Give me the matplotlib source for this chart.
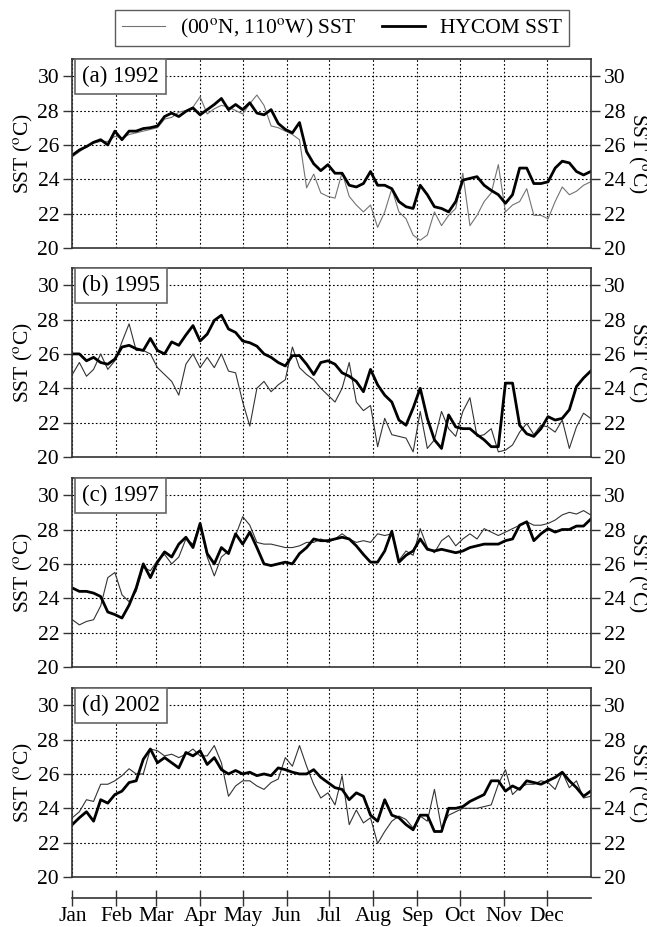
"""SST comparison at (0N, 110W): buoy vs HYCOM for four years."""

import matplotlib

matplotlib.use("Agg")
import matplotlib.pyplot as plt
import numpy as np

plt.rcParams["font.family"] = ["Liberation Serif", "DejaVu Serif"]
plt.rcParams["mathtext.fontset"] = "stix"

# day of year, every 5 days
days = np.arange(0, 366, 5)

month_days = [0, 31, 59, 90, 120, 151, 181, 212, 243, 273, 304, 334]
month_labels = ["Jan", "Feb", "Mar", "Apr", "May", "Jun",
                "Jul", "Aug", "Sep", "Oct", "Nov", "Dec"]

panel_labels = ["(a) 1992", "(b) 1995", "(c) 1997", "(d) 2002"]

buoy_1992 = [25.3, 25.6, 25.9, 26.1, 26.2, 26.2, 26.5, 26.4, 26.6, 26.7, 26.8, 26.9,
             27.0, 27.5, 27.6, 27.9, 28.0, 28.2, 28.8, 27.8, 28.1, 28.3, 28.2, 28.0,
             27.8, 28.4, 28.9, 28.3, 27.1, 27.0, 26.8, 26.6, 26.3, 23.5, 24.3, 23.2,
             23.0, 22.9, 24.4, 23.0, 22.5, 22.1, 22.5, 21.2, 22.1, 23.45, 22.1, 21.7,
             20.75, 20.45, 20.75, 22.1, 21.3, 21.9, 22.3, 24.35, 21.3, 21.9, 22.7, 23.2,
             24.85, 22.1, 22.5, 22.7, 23.45, 21.9, 21.9, 21.7, 22.7, 23.55, 23.1, 23.3,
             23.65, 23.85]
hycom_1992 = [25.4, 25.7, 25.9, 26.15, 26.3, 26.0, 26.8, 26.3, 26.8, 26.8, 26.95, 27.0,
              27.1, 27.65, 27.85, 27.65, 27.95, 28.15, 27.75, 28.05, 28.35, 28.7, 28.05, 28.35,
              28.05, 28.45, 27.85, 27.75, 28.05, 27.25, 26.9, 26.7, 27.3, 25.6, 24.9, 24.5,
              24.85, 24.35, 24.35, 23.65, 23.55, 23.75, 24.45, 23.65, 23.65, 23.45, 22.7, 22.4,
              22.3, 23.65, 23.1, 22.4, 22.3, 22.1, 22.7, 23.95, 24.05, 24.15, 23.65, 23.35,
              23.1, 22.6, 23.1, 24.65, 24.65, 23.75, 23.75, 23.85, 24.65, 25.05, 24.95, 24.45,
              24.25, 24.45]

buoy_1995 = [24.8, 25.5, 24.7, 25.1, 26.0, 25.1, 25.6, 26.7, 27.75, 26.2, 26.2, 26.0,
             25.2, 24.8, 24.4, 23.6, 25.4, 26.0, 25.2, 25.8, 25.2, 26.0, 25.0, 24.9,
             23.2, 21.8, 24.0, 24.4, 23.8, 24.2, 24.5, 26.4, 25.2, 24.8, 24.5, 24.0,
             23.6, 23.2, 24.0, 25.5, 23.2, 22.7, 23.0, 20.6, 22.25, 21.3, 21.2, 21.1,
             20.3, 22.65, 20.5, 21.0, 22.65, 21.65, 21.2, 22.65, 23.45, 21.2, 21.3, 21.65,
             20.3, 20.4, 20.7, 21.45, 21.95, 21.3, 21.85, 21.75, 21.45, 22.15, 20.5, 21.75,
             22.55, 22.25]
hycom_1995 = [26.0, 26.0, 25.6, 25.8, 25.5, 25.4, 25.7, 26.4, 26.5, 26.3, 26.2, 26.9,
              26.2, 26.0, 26.7, 26.5, 27.1, 27.65, 26.75, 27.15, 27.95, 28.25, 27.45, 27.25,
              26.75, 26.65, 26.45, 26.0, 25.8, 25.5, 25.3, 25.9, 25.9, 25.4, 24.8, 25.5,
              25.6, 25.4, 24.9, 24.7, 24.4, 23.8, 25.1, 24.2, 23.6, 23.2, 22.15, 21.85,
              22.85, 24.0, 22.25, 21.0, 20.5, 22.45, 21.75, 21.65, 21.65, 21.3, 21.0, 20.6,
              20.6, 24.3, 24.3, 21.85, 21.35, 21.2, 21.65, 22.35, 22.15, 22.25, 22.75, 24.1,
              24.6, 25.0]

buoy_1997 = [22.75, 22.45, 22.65, 22.75, 23.55, 25.2, 25.5, 24.2, 23.8, 24.4, 25.8, 25.6,
             26.2, 26.55, 26.0, 26.4, 27.45, 27.15, 28.4, 26.4, 25.3, 26.4, 26.75, 27.65,
             28.75, 28.25, 27.25, 27.15, 27.15, 27.05, 26.95, 26.95, 27.05, 27.25, 27.25, 27.45,
             27.25, 27.45, 27.75, 27.45, 27.25, 27.35, 27.25, 27.75, 27.65, 27.75, 26.2, 26.75,
             26.5, 28.05, 26.95, 26.65, 27.35, 27.65, 27.05, 27.45, 27.75, 27.45, 28.05, 27.85,
             27.65, 27.85, 28.05, 28.25, 28.45, 28.25, 28.25, 28.35, 28.55, 28.85, 29.0, 28.9,
             29.1, 28.85]
hycom_1997 = [24.6, 24.4, 24.4, 24.3, 24.1, 23.2, 23.05, 22.85, 23.6, 24.6, 26.0, 25.2,
              26.1, 26.7, 26.4, 27.15, 27.55, 26.95, 28.35, 26.6, 26.0, 26.95, 26.6, 27.75,
              27.15, 27.85, 26.95, 26.0, 25.9, 26.0, 26.1, 26.0, 26.6, 26.95, 27.45, 27.35,
              27.35, 27.45, 27.55, 27.45, 27.05, 26.55, 26.1, 26.1, 26.75, 27.9, 26.1, 26.5,
              26.75, 27.45, 26.85, 26.75, 26.85, 26.75, 26.65, 26.75, 26.95, 27.05, 27.15, 27.15,
              27.15, 27.35, 27.45, 28.25, 28.45, 27.35, 27.75, 28.05, 27.85, 28.0, 28.0, 28.2,
              28.2, 28.6]

buoy_2002 = [23.45, 23.8, 24.5, 24.4, 25.4, 25.4, 25.6, 25.9, 26.3, 26.0, 26.0, 27.45,
             27.35, 27.05, 27.15, 26.95, 27.15, 27.45, 27.05, 27.05, 27.65, 26.65, 24.7, 25.3,
             25.6, 25.6, 25.3, 25.1, 25.5, 25.7, 26.95, 26.45, 27.65, 26.45, 25.4, 24.6,
             24.9, 24.2, 25.9, 23.05, 23.9, 23.15, 23.45, 21.95, 22.65, 23.25, 23.55, 23.35,
             22.85, 23.55, 23.25, 25.1, 22.85, 23.6, 23.8, 24.0, 24.0, 24.0, 24.1, 24.2,
             25.4, 26.25, 24.8, 25.2, 25.4, 25.4, 25.6, 25.5, 25.1, 26.1, 25.2, 25.6,
             24.6, 24.7]
hycom_2002 = [23.05, 23.45, 23.8, 23.25, 24.5, 24.3, 24.8, 25.0, 25.5, 25.6, 26.85, 27.45,
              26.65, 26.95, 26.65, 26.35, 27.25, 27.05, 27.35, 26.55, 26.95, 26.25, 26.0, 26.2,
              26.0, 26.1, 25.9, 26.0, 25.9, 26.35, 26.25, 26.1, 26.0, 26.0, 26.25, 25.8,
              25.5, 25.2, 25.1, 24.5, 24.9, 24.7, 23.6, 23.25, 24.5, 23.6, 23.45, 23.05,
              22.75, 23.6, 23.6, 22.65, 22.65, 24.0, 24.0, 24.1, 24.4, 24.6, 24.8, 25.6,
              25.6, 25.0, 25.3, 25.1, 25.6, 25.5, 25.4, 25.6, 25.8, 26.1, 25.6, 25.2,
              24.7, 25.0]

buoy_series = [buoy_1992, buoy_1995, buoy_1997, buoy_2002]
hycom_series = [hycom_1992, hycom_1995, hycom_1997, hycom_2002]
sst_ticks = [20, 22, 24, 26, 28, 30]

fig = plt.figure(figsize=(6.47, 9.27), dpi=100)

left = 0.1117
width = 0.8012
height = 0.2039
bottoms = [0.7325, 0.5070, 0.2805, 0.0539]
spine_color = "0.2"
font_size = 15.5
ylabel = r"SST ($^{\rm o}$C)"

for i in range(4):
    ax = fig.add_axes([left, bottoms[i], width, height])
    ax.plot(days, buoy_series[i], color="0.2", lw=0.8,
            label=r"(00$^{\rm o}$N, 110$^{\rm o}$W) SST")
    ax.plot(days, hycom_series[i], color="black", lw=2.0, label="HYCOM SST")
    ax.set_xlim(0, 365)
    ax.set_ylim(20, 31)
    ax.set_yticks(sst_ticks)
    ax.set_xticks(month_days)
    ax.tick_params(axis="x", length=0, labelbottom=False)
    ax.tick_params(axis="y", direction="out", length=6.5, width=1.0, pad=3,
                   labelsize=font_size, color=spine_color)
    ax.grid(True, color="black", linestyle=(0, (1.5, 2.0)), lw=0.8)
    for s in ax.spines.values():
        s.set_color(spine_color)
        s.set_linewidth(1.2)
    ax.set_ylabel(ylabel, fontsize=font_size, labelpad=2)

    ax2 = ax.twinx()
    ax2.set_ylim(20, 31)
    ax2.set_yticks(sst_ticks)
    ax2.tick_params(axis="y", direction="out", length=6.5, width=1.0, pad=3,
                    labelsize=font_size, color=spine_color)
    ax2.set_ylabel(ylabel, fontsize=font_size, rotation=270, va="center", ha="center")
    ax2.yaxis.set_label_coords(1.09, 0.5)
    for s in ax2.spines.values():
        s.set_visible(False)

    ax.text(0.019, 0.965, panel_labels[i], transform=ax.transAxes, fontsize=16.5,
            va="top", ha="left", zorder=5,
            bbox=dict(facecolor="white", edgecolor="0.4", lw=1.2,
                      boxstyle="square,pad=0.3"))
    if i == 0:
        handles, labels = ax.get_legend_handles_labels()

handles[0].set_color("0.45")
fig.legend(handles, labels, loc="center", bbox_to_anchor=(0.5286, 0.9695), ncol=2,
           fontsize=15.5, frameon=True, fancybox=False, edgecolor="0.2",
           handlelength=2.0, columnspacing=1.2, borderpad=0.3, handletextpad=0.7)

# separate month axis below the last panel
axb = fig.add_axes([left, 0.0313, width, 0.0001])
axb.set_xlim(0, 365)
axb.set_yticks([])
for name in ["top", "left", "right"]:
    axb.spines[name].set_visible(False)
axb.spines["bottom"].set_color(spine_color)
axb.spines["bottom"].set_linewidth(1.2)
axb.set_xticks(month_days)
axb.set_xticklabels(month_labels)
axb.tick_params(axis="x", direction="inout", length=11, width=1.0, pad=1,
                labelsize=font_size, color=spine_color)
axb.patch.set_visible(False)

fig.savefig("out.png", dpi=100)
